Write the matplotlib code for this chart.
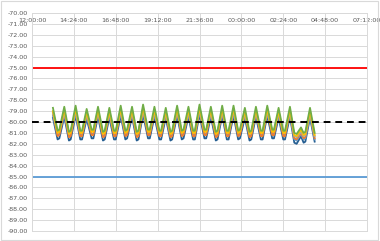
import numpy as np
import matplotlib
matplotlib.use("Agg")
import matplotlib.pyplot as plt
from matplotlib.patches import Rectangle

# sample times: peak, then two points around the trough of each cycle
times = ["13:12", "13:28", "13:34", "13:51", "14:07", "14:13", "14:30", "14:46", "14:52",
         "15:08", "15:25", "15:31", "15:47", "16:04", "16:10", "16:26", "16:42", "16:48",
         "17:05", "17:21", "17:27", "17:44", "18:00", "18:06", "18:22", "18:39", "18:45",
         "19:01", "19:18", "19:24", "19:40", "19:56", "20:02", "20:19", "20:35", "20:41",
         "20:58", "21:14", "21:20", "21:36", "21:53", "21:59", "22:15", "22:32", "22:38",
         "22:54", "23:10", "23:16", "23:33", "23:49", "23:55", "00:12", "00:28", "00:34",
         "00:50", "01:07", "01:13", "01:29", "01:46", "01:52", "02:08", "02:24", "02:30",
         "02:47", "03:02", "03:10", "03:25", "03:34", "03:40", "03:56", "04:12"]

s_green = [-78.7, -80.8, -80.7, -78.6, -80.9, -80.8, -78.5, -80.8, -80.8, -78.8, -80.7, -80.7,
           -78.6, -80.9, -80.8, -78.7, -80.8, -80.8, -78.5, -80.8, -80.7, -78.6, -80.9, -80.8,
           -78.4, -80.7, -80.7, -78.6, -80.8, -80.8, -78.7, -80.9, -80.8, -78.5, -80.8, -80.7,
           -78.6, -80.8, -80.8, -78.4, -80.7, -80.7, -78.6, -80.9, -80.8, -78.5, -80.8, -80.8,
           -78.5, -80.8, -80.7, -78.7, -80.9, -80.8, -78.6, -80.8, -80.8, -78.5, -80.7, -80.7,
           -78.7, -80.8, -80.8, -78.6, -81.0, -81.1, -80.5, -81.0, -80.9, -78.7, -81.0]
s_gold = [-79.0, -81.0, -80.9, -78.9, -81.1, -81.0, -78.8, -81.0, -81.0, -79.1, -80.9, -80.9,
          -78.9, -81.1, -81.0, -79.0, -81.0, -81.0, -78.8, -81.0, -80.9, -78.9, -81.1, -81.0,
          -78.7, -80.9, -80.9, -78.9, -81.0, -81.0, -79.0, -81.1, -81.0, -78.8, -81.0, -80.9,
          -78.9, -81.0, -81.0, -78.7, -80.9, -80.9, -78.9, -81.1, -81.0, -78.8, -81.0, -81.0,
          -78.8, -81.0, -80.9, -79.0, -81.1, -81.0, -78.9, -81.0, -81.0, -78.8, -80.9, -80.9,
          -79.0, -81.0, -81.0, -78.9, -81.2, -81.3, -80.7, -81.2, -81.1, -79.0, -81.2]
s_gray = [-79.2, -80.9, -80.8, -79.1, -81.0, -80.9, -79.0, -80.9, -80.9, -79.3, -80.8, -80.8,
          -79.1, -81.0, -80.9, -79.2, -80.9, -80.9, -79.0, -80.9, -80.8, -79.1, -81.0, -80.9,
          -78.9, -80.8, -80.8, -79.1, -80.9, -80.9, -79.2, -81.0, -80.9, -79.0, -80.9, -80.8,
          -79.1, -80.9, -80.9, -78.9, -80.8, -80.8, -79.1, -81.0, -80.9, -79.0, -80.9, -80.9,
          -79.0, -80.9, -80.8, -79.2, -81.0, -80.9, -79.1, -80.9, -80.9, -79.0, -80.8, -80.8,
          -79.2, -80.9, -80.9, -79.1, -81.3, -81.4, -80.9, -81.3, -81.2, -79.2, -81.3]
s_orange = [-79.1, -81.3, -81.2, -79.0, -81.4, -81.3, -78.9, -81.3, -81.3, -79.2, -81.2, -81.2,
            -79.0, -81.4, -81.3, -79.1, -81.3, -81.3, -78.9, -81.3, -81.2, -79.0, -81.4, -81.3,
            -78.8, -81.2, -81.2, -79.0, -81.3, -81.3, -79.1, -81.4, -81.3, -78.9, -81.3, -81.2,
            -79.0, -81.3, -81.3, -78.8, -81.2, -81.2, -79.0, -81.4, -81.3, -78.9, -81.3, -81.3,
            -78.9, -81.3, -81.2, -79.1, -81.4, -81.3, -79.0, -81.3, -81.3, -78.9, -81.2, -81.2,
            -79.1, -81.3, -81.3, -79.0, -81.5, -81.6, -81.0, -81.5, -81.4, -79.1, -81.5]
s_blue = [-79.4, -81.2, -81.1, -79.3, -81.3, -81.2, -79.2, -81.2, -81.2, -79.5, -81.1, -81.1,
          -79.3, -81.3, -81.2, -79.4, -81.2, -81.2, -79.2, -81.2, -81.1, -79.3, -81.3, -81.2,
          -79.1, -81.1, -81.1, -79.3, -81.2, -81.2, -79.4, -81.3, -81.2, -79.2, -81.2, -81.1,
          -79.3, -81.2, -81.2, -79.1, -81.1, -81.1, -79.3, -81.3, -81.2, -79.2, -81.2, -81.2,
          -79.2, -81.2, -81.1, -79.4, -81.3, -81.2, -79.3, -81.2, -81.2, -79.2, -81.1, -81.1,
          -79.4, -81.2, -81.2, -79.3, -81.6, -81.7, -81.1, -81.6, -81.5, -79.4, -81.6]
s_dark = [-79.6, -81.6, -81.5, -79.5, -81.7, -81.6, -79.4, -81.6, -81.6, -79.7, -81.5, -81.5,
          -79.5, -81.7, -81.6, -79.6, -81.6, -81.6, -79.4, -81.6, -81.5, -79.5, -81.7, -81.6,
          -79.3, -81.5, -81.5, -79.5, -81.6, -81.6, -79.6, -81.7, -81.6, -79.4, -81.6, -81.5,
          -79.5, -81.6, -81.6, -79.3, -81.5, -81.5, -79.5, -81.7, -81.6, -79.4, -81.6, -81.6,
          -79.4, -81.6, -81.5, -79.6, -81.7, -81.6, -79.5, -81.6, -81.6, -79.4, -81.5, -81.5,
          -79.6, -81.6, -81.6, -79.5, -81.9, -82.0, -81.3, -81.9, -81.8, -79.6, -81.8]

series = [s_dark, s_blue, s_orange, s_gray, s_gold, s_green]
colors = ["#255E91", "#5B9BD5", "#ED7D31", "#A5A5A5", "#FFC000", "#70AD47"]

# reference lines
ref_times = ["12:00", "07:12"]
upper_limit = [-75.0, -75.0]
lower_limit = [-85.0, -85.0]
target = [-80.0, -80.0]

tick_labels = ["12:00:00", "14:24:00", "16:48:00", "19:12:00", "21:36:00",
               "00:00:00", "02:24:00", "04:48:00", "07:12:00"]


def to_hours(t):
    """hours after 12:00, next day wraps"""
    h, m = t.split(":")[:2]
    v = int(h) + int(m) / 60
    if v < 12:
        v += 24
    return v - 12


x = [to_hours(t) for t in times]
xr = [to_hours(t) for t in ref_times]
xt = [to_hours(t) for t in tick_labels]

fig = plt.figure(figsize=(3.8, 2.41), dpi=100)
fig.patches.append(Rectangle((0.003, 0.004), 0.993, 0.99, transform=fig.transFigure,
                             fill=False, edgecolor="#d9d9d9", lw=0.8))
ax = fig.add_axes([0.0842, 0.0415, 0.8816, 0.9045])

for s, c in zip(series, colors):
    ax.plot(x, s, color=c, lw=1.3, zorder=3)

ax.plot(xr, upper_limit, color="#FF0000", lw=1.3, zorder=2)
ax.plot(xr, lower_limit, color="#5B9BD5", lw=1.3, zorder=2)
ax.plot(xr, target, color="black", lw=1.4, ls=(0, (3.5, 2.5)), zorder=4)

ax.set_xlim(xr[0], xr[1])
ax.set_ylim(-90, -70)
ax.set_xticks(xt)
ax.set_xticklabels(tick_labels)
ax.set_yticks(np.arange(-90, -69, 1))
ax.set_yticklabels(["%.2f" % v for v in np.arange(-90, -69, 1)])

ax.grid(True, color="#d9d9d9", lw=0.7)
ax.set_axisbelow(True)
for sp in ax.spines.values():
    sp.set_color("#d9d9d9")
    sp.set_linewidth(0.7)

ax.tick_params(axis="x", top=True, labeltop=True, bottom=False, labelbottom=False,
               length=0, pad=-7, labelsize=4.6, labelcolor="#595959")
ax.tick_params(axis="y", length=0, pad=3, labelsize=4.6, labelcolor="#595959")

fig.savefig("out.png", dpi=100)
